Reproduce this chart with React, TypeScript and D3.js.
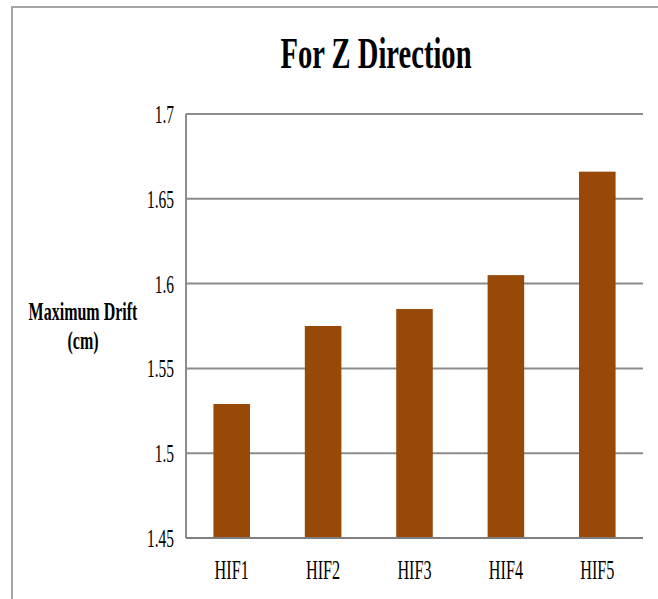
import React, { useEffect } from "react";
import * as d3 from "d3";

const categories = ["HIF1", "HIF2", "HIF3", "HIF4", "HIF5"];
const values = [1.529, 1.575, 1.585, 1.605, 1.666];
const yTicks = [1.45, 1.5, 1.55, 1.6, 1.65, 1.7];
const title = "For Z Direction";
const yTitle = ["Maximum Drift", "(cm)"];

const W = 658;
const H = 599;
const plot = { left: 186, right: 643, top: 114, bottom: 538 };
const FONT = "'Liberation Serif', 'Times New Roman', serif";

export default function App() {
  useEffect(() => {
    document.body.style.margin = "0";
  }, []);

  const x = d3
    .scaleBand<string>()
    .domain(categories)
    .range([plot.left, plot.right])
    .paddingInner(0.6)
    .paddingOuter(0.3);
  const y = d3.scaleLinear().domain([1.45, 1.7]).range([plot.bottom, plot.top]);
  const fmt = (v: number) => d3.format("")(+v.toFixed(2));

  return (
    <svg width={W} height={H} style={{ position: "absolute", left: 0, top: 0, background: "#fff" }}>
      {/* outer frame */}
      <path d={`M12,${H} L12,7 L${W},7`} fill="none" stroke="#a6a6a6" strokeWidth={2} />

      {/* title */}
      <text
        transform={`translate(376,68) scale(0.65,1)`}
        textAnchor="middle"
        fontFamily={FONT}
        fontWeight="bold"
        fontSize={44}
        fill="#000"
      >
        {title}
      </text>

      {/* gridlines */}
      {yTicks.map((t) => (
        <line
          key={t}
          x1={plot.left}
          x2={plot.right}
          y1={y(t)}
          y2={y(t)}
          stroke="#8c8c8c"
          strokeWidth={2}
        />
      ))}

      {/* y axis line */}
      <line x1={plot.left} x2={plot.left} y1={plot.top} y2={plot.bottom} stroke="#8c8c8c" strokeWidth={2} />

      {/* bars */}
      {categories.map((c, i) => (
        <rect
          key={c}
          x={x(c)!}
          width={x.bandwidth()}
          y={y(values[i])}
          height={y(1.45) - y(values[i])}
          fill="#984807"
        />
      ))}

      {/* x axis baseline */}
      <line x1={plot.left} x2={plot.right} y1={plot.bottom} y2={plot.bottom} stroke="#7f7f7f" strokeWidth={2} />

      {/* y tick labels */}
      {yTicks.map((t) => (
        <text
          key={t}
          transform={`translate(174,${y(t) + 9}) scale(0.62,1)`}
          textAnchor="end"
          fontFamily={FONT}
          fontSize={25}
          fill="#000"
        >
          {fmt(t)}
        </text>
      ))}

      {/* x labels */}
      {categories.map((c) => (
        <text
          key={c}
          transform={`translate(${x(c)! + x.bandwidth() / 2},579) scale(0.6,1)`}
          textAnchor="middle"
          fontFamily={FONT}
          fontSize={27}
          fill="#000"
        >
          {c}
        </text>
      ))}

      {/* y title */}
      {yTitle.map((s, i) => (
        <text
          key={s}
          transform={`translate(83,${320 + i * 29}) scale(0.64,1)`}
          textAnchor="middle"
          fontFamily={FONT}
          fontWeight="bold"
          fontSize={25}
          fill="#000"
        >
          {s}
        </text>
      ))}
    </svg>
  );
}
